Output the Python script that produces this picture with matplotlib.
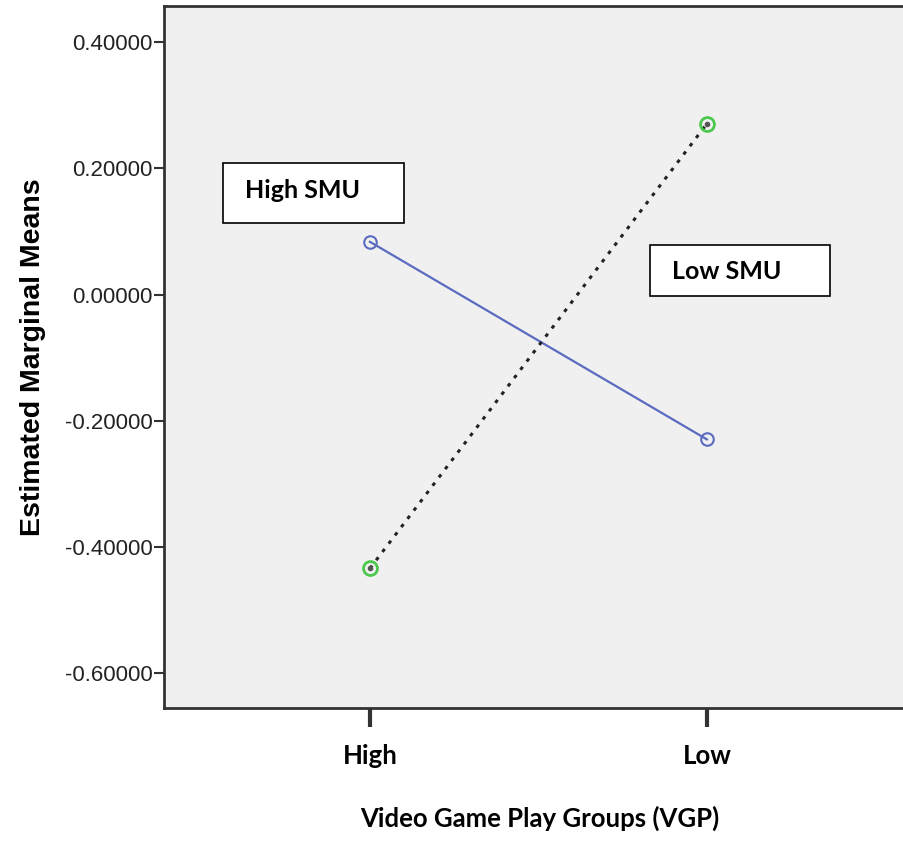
import matplotlib.pyplot as plt
from matplotlib.patches import Rectangle

# Estimated marginal means by VGP group
groups = ['High', 'Low']
high_smu = [0.0835, -0.2295]
low_smu = [-0.4340, 0.2705]
yticks = [0.4, 0.2, 0.0, -0.2, -0.4, -0.6]

W, H = 904, 847
fig = plt.figure(figsize=(W / 100, H / 100), dpi=100)
ax = fig.add_axes([164 / W, 1 - 708 / H, 740 / W, 702 / H])
ax.set_facecolor('#f0f0f0')

x = range(len(groups))
ax.plot(x, high_smu, color='#5a6bc0', lw=1.6, marker='o', ms=9,
        mfc='none', mec='#5a6bc0', mew=1.5, zorder=3)
ax.plot(x, low_smu, color='#222222', lw=2.2, linestyle=(0, (1.2, 2.2)), zorder=3)
ax.plot(x, low_smu, linestyle='none', marker='o', ms=3, color='#555555', zorder=4)
ax.plot(x, low_smu, linestyle='none', marker='o', ms=10, mfc='none',
        mec='#4cc84c', mew=2, zorder=4)

ax.set_xlim(-0.611, 1.585)
ax.set_ylim(-0.655, 0.457)
ax.set_yticks(yticks)
ax.set_yticklabels(['%.5f' % v for v in yticks], fontsize=16,
                   family='Liberation Sans', color='#222222')
ax.set_xticks(list(x))
ax.set_xticklabels(groups, fontsize=18.5, fontweight='bold', family='Lato')
ax.tick_params(axis='x', length=14, width=3, pad=12, color='#333333')
ax.tick_params(axis='y', length=7, width=1.5, pad=1, color='#333333')

for s in ['left', 'top', 'bottom']:
    ax.spines[s].set_linewidth(2)
    ax.spines[s].set_color('#333333')
ax.spines['right'].set_visible(False)

ax.set_ylabel('Estimated Marginal Means', fontsize=20.5, fontweight='bold',
              family='Liberation Sans', labelpad=14)
fig.text(540 / W, 1 - 818 / H, 'Video Game Play Groups (VGP)', ha='center',
         va='center', fontsize=18.5, fontweight='bold', family='Lato')

# series label boxes
for (x0, y0, x1, y1, ty, txt) in [(223, 163, 404, 223, 191, 'High SMU'),
                                  (650, 245, 830, 296, 271, 'Low SMU')]:
    fig.patches.append(Rectangle((x0 / W, 1 - y1 / H), (x1 - x0) / W, (y1 - y0) / H,
                                 transform=fig.transFigure, facecolor='white',
                                 edgecolor='black', lw=1.2, zorder=5))
    fig.text((x0 + 22) / W, 1 - ty / H, txt, ha='left', va='center',
             fontsize=18, fontweight='bold', family='Lato', zorder=6)

fig.savefig('out.png', dpi=100)
